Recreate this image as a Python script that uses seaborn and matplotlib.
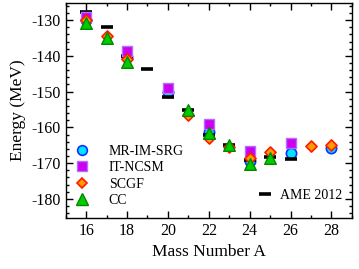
import matplotlib
matplotlib.use("Agg")
import matplotlib.pyplot as plt
import seaborn as sns
import pandas as pd
from matplotlib.ticker import MultipleLocator
from matplotlib.lines import Line2D

# mass numbers and energies (MeV)
ame_a = [16, 17, 18, 19, 20, 21, 22, 23, 24, 25, 26]
ame_e = [-127.6, -131.8, -139.9, -143.8, -151.5, -155.2, -162.0, -164.8, -169.0, -168.3, -168.9]

imsrg_a = [16, 18, 20, 22, 24, 26, 28]
imsrg_e = [-130.0, -140.2, -150.0, -161.2, -169.4, -167.2, -165.8]

ncsm_a = [16, 18, 20, 22, 24, 26]
ncsm_e = [-129.1, -138.6, -148.9, -159.1, -166.6, -164.4]

scgf_a = [16, 17, 18, 21, 22, 23, 24, 25, 27, 28]
scgf_e = [-130.0, -134.3, -141.0, -156.4, -163.0, -165.6, -168.6, -167.0, -165.1, -164.9]

cc_a = [16, 17, 18, 21, 22, 23, 24, 25]
cc_e = [-130.9, -134.9, -141.6, -155.1, -161.7, -164.9, -170.3, -168.6]

sns.set_style("ticks")
plt.rcParams["font.family"] = ["Liberation Serif", "DejaVu Serif"]
plt.rcParams["axes.edgecolor"] = "black"
plt.rcParams["xtick.color"] = "black"
plt.rcParams["ytick.color"] = "black"
plt.rcParams["text.color"] = "black"
plt.rcParams["axes.labelcolor"] = "black"

fig = plt.figure(figsize=(3.59, 2.69), dpi=100)
ax = fig.add_axes([0.183, 0.190, 0.797, 0.799])

def df(a, e):
    return pd.DataFrame({"A": a, "E": e})

sns.scatterplot(data=df(imsrg_a, imsrg_e), x="A", y="E", ax=ax, marker="o", s=55,
                color="#00E5FF", edgecolor="#1030FF", linewidth=1.2, zorder=3)
sns.scatterplot(data=df(ame_a, ame_e), x="A", y="E", ax=ax, marker="_", s=80,
                color="black", linewidth=2.6, zorder=4)
sns.scatterplot(data=df(ncsm_a, ncsm_e), x="A", y="E", ax=ax, marker="s", s=45,
                color="#CC00EE", edgecolor="#B070FF", linewidth=1.0, zorder=5)
sns.scatterplot(data=df(scgf_a, scgf_e), x="A", y="E", ax=ax, marker="D", s=32,
                color="#FF9A00", edgecolor="#FF1A00", linewidth=1.2, zorder=6)
sns.scatterplot(data=df(cc_a, cc_e), x="A", y="E", ax=ax, marker="^", s=70,
                color="#00CC00", edgecolor="#008800", linewidth=1.0, zorder=7)

ax.set_xlim(15, 29)
ax.set_ylim(-185.3, -125.2)
ax.xaxis.set_major_locator(MultipleLocator(2))
ax.xaxis.set_minor_locator(MultipleLocator(1))
ax.yaxis.set_major_locator(MultipleLocator(10))
ax.yaxis.set_minor_locator(MultipleLocator(2))
ax.tick_params(which="both", direction="in", top=True, right=True, labelsize=11.5, width=1.0)
ax.tick_params(which="major", length=5)
ax.tick_params(which="minor", length=2.5)
for sp in ax.spines.values():
    sp.set_linewidth(1.0)
ax.set_yticks(ax.get_yticks())
ax.set_yticklabels([f"{int(t)}" for t in ax.get_yticks()])
ax.set_ylim(-185.3, -125.2)

ax.set_xlabel("Mass Number A", fontsize=12.5, labelpad=4)
ax.set_ylabel("Energy (MeV)", fontsize=12.5, labelpad=4)

h1 = [
    Line2D([], [], ls="", marker="o", ms=7, mfc="#00E5FF", mec="#1030FF", mew=1.2),
    Line2D([], [], ls="", marker="s", ms=6.5, mfc="#CC00EE", mec="#B070FF", mew=1.0),
    Line2D([], [], ls="", marker="D", ms=5.5, mfc="#FF9A00", mec="#FF1A00", mew=1.2),
    Line2D([], [], ls="", marker="^", ms=8, mfc="#00CC00", mec="#008800", mew=1.0),
]
leg1 = ax.legend(h1, ["MR-IM-SRG", "IT-NCSM", "SCGF", "CC"], loc="lower left",
                 bbox_to_anchor=(0.0, 0.005), frameon=False, fontsize=10,
                 handlelength=1.0, handletextpad=1.4, labelspacing=0.25, borderaxespad=0.3)
ax.add_artist(leg1)
h2 = [Line2D([], [], ls="", marker="_", ms=9, mew=2.6, color="black")]
ax.legend(h2, ["AME 2012"], loc="lower right", bbox_to_anchor=(1.0, 0.03), frameon=False,
          fontsize=10, handlelength=1.0, handletextpad=0.6, borderaxespad=0.3)

fig.savefig("out.png", dpi=100)
